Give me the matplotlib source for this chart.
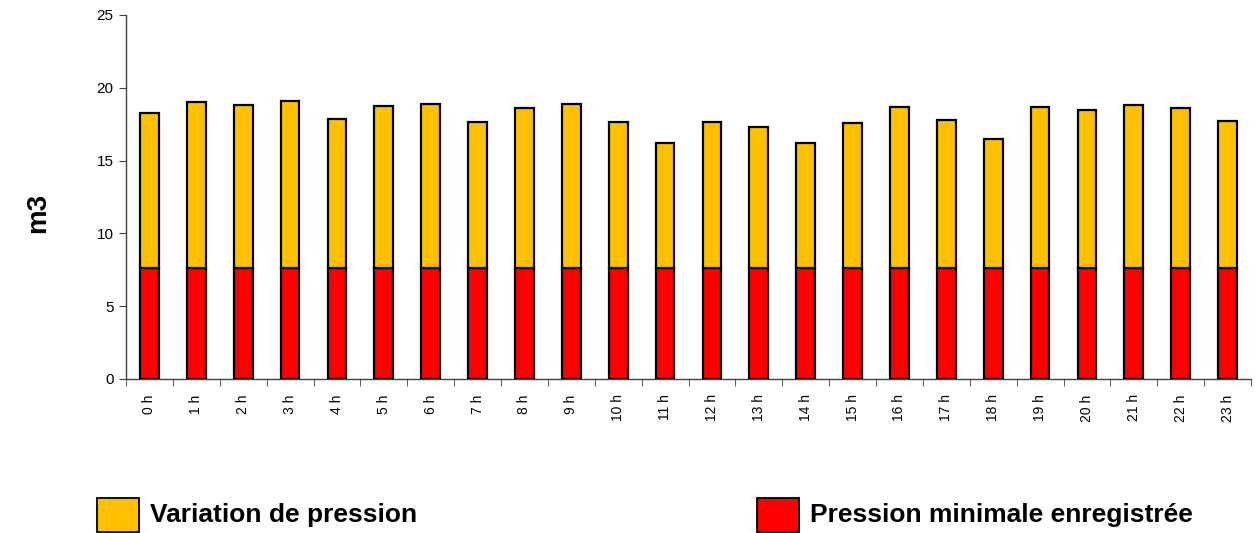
import matplotlib
matplotlib.use("Agg")
import matplotlib.pyplot as plt
import numpy as np

plt.rcParams['font.family'] = ['Liberation Sans', 'DejaVu Sans']

hours = [f"{h} h" for h in range(24)]
pression_min = [7.6] * 24
totaux = [18.25, 19.05, 18.82, 19.11, 17.88, 18.77, 18.89, 17.65,
          18.59, 18.87, 17.63, 16.21, 17.65, 17.31, 16.21, 17.56,
          18.68, 17.79, 16.50, 18.66, 18.48, 18.82, 18.61, 17.74]
variation = [round(t - m, 2) for t, m in zip(totaux, pression_min)]
y_ticks = [0, 5, 10, 15, 20, 25]

W, H = 1255, 533
fig = plt.figure(figsize=(W / 100, H / 100), dpi=100)
ax = fig.add_axes([126 / W, 1 - 379 / H, (1251 - 126) / W, (379 - 15) / H])

x = np.arange(len(hours))
w = 0.4
ax.bar(x, pression_min, width=w, color='#FF0000', edgecolor='black', linewidth=1.6, zorder=3)
ax.bar(x, variation, width=w, bottom=pression_min, color='#FFC000', edgecolor='black',
       linewidth=1.6, zorder=3)

ax.set_xlim(-0.5, len(hours) - 0.5)
ax.set_ylim(0, 25)
ax.set_yticks(y_ticks)
ax.set_yticklabels([str(t) for t in y_ticks], fontsize=11)
ax.set_xticks(x)
ax.set_xticklabels(hours, rotation=90, fontsize=10)
ax.tick_params(axis='x', length=0, pad=11)
ax.set_xticks(np.arange(-0.5, len(hours), 1.0), minor=True)
ax.tick_params(axis='x', which='minor', length=5, color='#404040')
ax.tick_params(axis='y', length=5, color='#404040', pad=4)

for side in ('top', 'right'):
    ax.spines[side].set_visible(False)
for side in ('left', 'bottom'):
    ax.spines[side].set_color('#404040')
    ax.spines[side].set_linewidth(1.0)

fig.text(38 / W, 1 - 213 / H, 'm3', rotation=90, fontsize=20, fontweight='bold',
         ha='center', va='center')

# legend entries
for px, label, col in [(97, 'Variation de pression', '#FFC000'),
                       (757, 'Pression minimale enregistrée', '#FF0000')]:
    fig.patches.append(plt.Rectangle((px / W, 1 - 532 / H), 42 / W, 34 / H,
                                     transform=fig.transFigure, facecolor=col,
                                     edgecolor='black', linewidth=1.3))
    fig.text((px + 53) / W, 1 - 515 / H, label, fontsize=19, fontweight='bold',
             ha='left', va='center')

fig.savefig('out.png', dpi=100)
